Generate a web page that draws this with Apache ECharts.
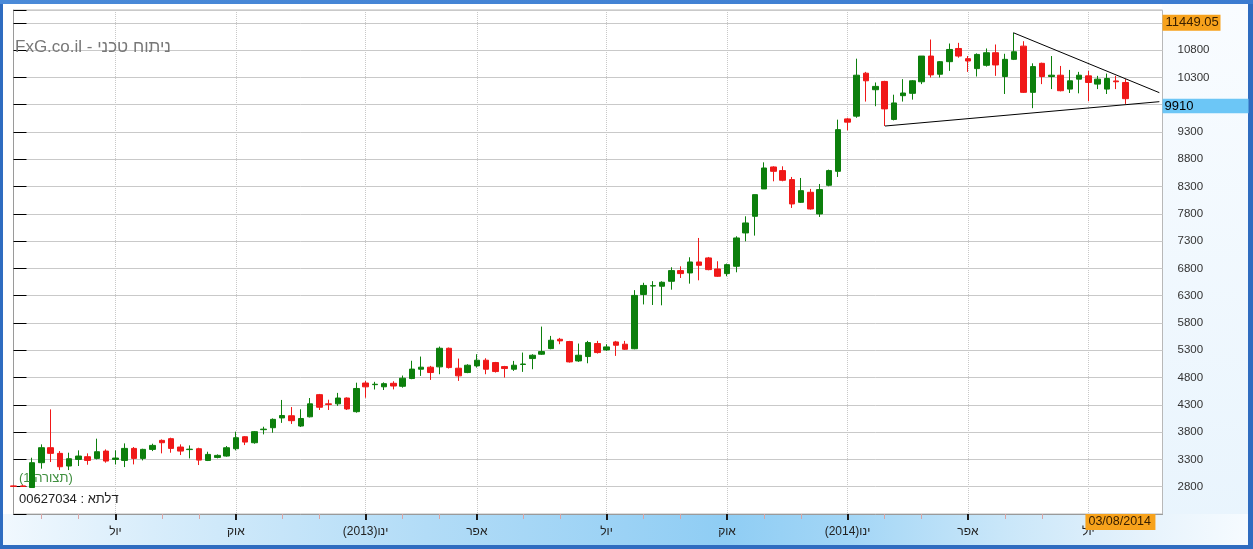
<!DOCTYPE html>
<html><head><meta charset="utf-8">
<script src="https://cdn.jsdelivr.net/npm/echarts@6/dist/echarts.min.js"></script>
<style>html,body{margin:0;padding:0;background:#fff;overflow:hidden}#c{width:1253px;height:549px}</style>
</head><body><div id="c"></div>
<script>
// ---- data (weekly candles, last week 03/08/2014) ----
const lastDate = '03/08/2014';
const opens = [2815,2815,2785,3240,3515,3411,3179,3300,3350,3319,3453,3300,3282,3502,3319,3484,3649,3680,3527,3480,
  3496,3282,3337,3362,3496,3716,3606,3845,3881,4060,4100,3912,4081,4487,4318,4319,4425,4175,4700,4670,
  4631,4695,4640,4782,4953,4990,4996,5337,4971,4892,5014,5118,5075,5001,4953,5040,5148,5228,5331,5502,
  5460,5105,5185,5423,5307,5453,5411,5328,6323,6478,6473,6564,6760,6717,6918,6992,6790,6705,6839,7450,
  7755,8256,8659,8592,8427,8011,8195,7798,8323,8579,9540,9590,10377,10074,10226,9530,9965,10008,10220,10691,
  10358,10588,10830,10643,10461,10522,10752,10316,10631,10873,10026,10558,10316,10340,10086,10268,10328,10177,10086,10235,
  10207];
const closes = [2805,2805,3240,3515,3411,3166,3313,3362,3282,3441,3270,3325,3502,3319,3484,3557,3606,3502,3453,3488,
  3288,3392,3374,3514,3698,3618,3808,3855,4034,4105,4010,4050,4319,4256,4308,4425,4225,4600,4630,4678,
  4688,4645,4788,4955,4990,4892,5337,4983,4831,5026,5118,4953,4910,4965,5026,5048,5209,5276,5484,5472,
  5087,5209,5441,5258,5362,5392,5319,6305,6488,6484,6546,6760,6705,6918,6857,6778,6656,6869,7358,7633,
  8152,8640,8579,8415,7981,8225,7889,8244,8592,9343,9480,10340,10238,10135,9723,9832,10014,10238,10691,10346,
  10588,10812,10691,10600,10721,10752,10528,10631,10770,10026,10498,10316,10340,10056,10238,10340,10207,10268,10280,10220,
  9910];
const lows = [2795,2795,2780,3130,3252,3105,3105,3179,3203,3300,3240,3209,3160,3209,3282,3453,3411,3423,3380,3319,
  3197,3270,3319,3350,3466,3563,3588,3759,3789,3970,3950,3894,4069,4206,4206,4281,4206,4156,4430,4581,
  4572,4583,4615,4770,4830,4757,4861,4965,4739,4880,4983,4861,4892,4800,4922,4904,4953,5215,5319,5411,
  5075,5087,5062,5240,5289,5197,5307,5319,6140,6130,6124,6411,6625,6521,6582,6766,6644,6656,6729,7297,
  7401,8256,8396,8396,7908,7999,7877,7743,8305,8476,9330,9560,9857,9772,9409,9512,9857,9893,10177,10298,
  10298,10419,10661,10401,10316,10498,10328,9996,10618,10014,9736,10177,10086,10044,10014,10008,9863,10086,9996,10086,
  9814];
const highs = [2825,2830,3331,3576,4217,3453,3423,3466,3411,3680,3484,3466,3594,3527,3496,3588,3667,3698,3576,3557,
  3514,3441,3392,3545,3808,3728,3820,3899,4052,4390,4260,4219,4425,4500,4394,4519,4437,4706,4737,4722,
  4712,4732,4837,5108,5185,5014,5368,5350,5148,5044,5228,5154,5087,5014,5105,5258,5228,5734,5563,5527,
  5472,5423,5472,5472,5411,5472,5472,6402,6537,6567,6564,6821,6839,7004,7358,7010,6931,6888,7389,7755,
  8152,8744,8671,8671,8476,8457,8256,8347,8610,9526,9560,10643,10401,10207,10238,9983,10268,10250,10691,10994,
  10600,10921,10933,10691,10740,10830,10903,10733,11114,10963,10558,10570,10691,10510,10437,10401,10419,10328,10370,10328,
  10268];
const futureWeeks = 4;
const tickIndex = [11, 24, 38, 50, 64, 77, 90, 103, 116];
const tickLabels = ['יול', 'אוק', '(2013)ינו', 'אפר', 'יול', 'אוק', '(2014)ינו', 'אפר', 'יול'];
const minorTickIndex = [3, 7, 16, 20, 29, 33, 42, 46, 55, 59, 68, 72, 81, 85, 94, 98, 107, 111];
const trendUpper = [[107.9, 11119], [123.66, 10020]];
const trendLower = [[94.05, 9409], [123.66, 9855]];
const maxLabelValue = 11449.05;
const lastClose = 9910;
const titleText = 'FxG.co.il - ניתוח טכני';
const patternText = '(תצורה 1)';
const deltaText = '00627034 : דלתא';

// ---- build ----
const nCats = opens.length + futureWeeks;
const lp = lastDate.split('/').map(Number);
const categories = Array.from({length: nCats}, (_, i) => {
  const d = new Date(lp[2], lp[1] - 1, lp[0] + (i - (opens.length - 1)) * 7);
  return String(d.getDate()).padStart(2, '0') + '/' + String(d.getMonth() + 1).padStart(2, '0') + '/' + d.getFullYear();
});
const candleData = opens.map((o, i) => [o, closes[i], lows[i], highs[i]]);

const FONT = "'Liberation Sans', 'DejaVu Sans', Arial, sans-serif";
const chart = echarts.init(document.getElementById('c'), null, {renderer: 'canvas'});

function bgElements() {
  return [
    {type: 'rect', id: 'frame', z: -20, shape: {x: 0, y: 0, width: 1253, height: 549}, style: {fill: '#2f6cc0'}, silent: true},
    {type: 'rect', id: 'topbar', z: -19, shape: {x: 0, y: 0, width: 1253, height: 4},
      style: {fill: new echarts.graphic.LinearGradient(0, 0, 1, 0, [{offset: 0, color: '#4a8ad8'}, {offset: 1, color: '#3b7bd0'}])}, silent: true},
    {type: 'rect', id: 'inner', z: -18, shape: {x: 3, y: 4, width: 1245, height: 541}, style: {fill: '#ffffff'}, silent: true},
    {type: 'rect', id: 'rightband', z: -17, shape: {x: 1162, y: 4, width: 86, height: 541},
      style: {fill: new echarts.graphic.LinearGradient(0, 0, 0, 1, [{offset: 0, color: '#f9fcff'}, {offset: 1, color: '#e8f4fd'}])}, silent: true},
    {type: 'rect', id: 'bottomband', z: -16, shape: {x: 3, y: 514, width: 1245, height: 31},
      style: {fill: new echarts.graphic.LinearGradient(0, 0, 1, 0, [
        {offset: 0, color: '#f1f8fe'}, {offset: 0.12, color: '#d8edfb'}, {offset: 0.34, color: '#b2dcf7'},
        {offset: 0.5, color: '#9bd2f5'}, {offset: 0.58, color: '#8fcdf4'}, {offset: 0.68, color: '#a3d6f6'},
        {offset: 0.8, color: '#c8e6f9'}, {offset: 0.92, color: '#e7f3fc'}, {offset: 1, color: '#f6fbff'}])}, silent: true},
    {type: 'text', id: 'title', z: 50, left: 15, top: 39, silent: true,
      style: {text: titleText, font: '17px ' + FONT, fill: '#777777'}},
    {type: 'text', id: 'pattern', z: 50, left: 19, top: 472, silent: true,
      style: {text: patternText, font: '13px ' + FONT, fill: '#3f8f3f'}},
    {type: 'text', id: 'delta', z: 50, left: 19, top: 493, silent: true,
      style: {text: deltaText, font: '13px ' + FONT, fill: '#222222'}}
  ];
}

const option = {
  animation: false,
  backgroundColor: 'transparent',
  grid: {left: 13.5, right: 90.5, top: 10, bottom: 35, show: true, backgroundColor: '#ffffff', borderColor: '#b8b8b8', borderWidth: 1},
  xAxis: [
    {type: 'category', data: categories, boundaryGap: false, position: 'bottom',
      axisLine: {show: true, lineStyle: {color: '#9a9a9a'}},
      axisTick: {show: true, interval: (i) => tickIndex.includes(i), length: 6, lineStyle: {color: '#1a1a1a', width: 2}},
      axisLabel: {show: true, interval: (i) => tickIndex.includes(i), margin: 12, color: '#222', fontSize: 12, fontFamily: FONT,
        formatter: (v, i) => { const k = tickIndex.indexOf(i); return k >= 0 ? tickLabels[k] : ''; }},
      splitLine: {show: true, interval: (i) => tickIndex.includes(i), lineStyle: {color: '#c8c8c8', type: 'dotted', width: 1}}},
    {type: 'category', data: categories, boundaryGap: false, position: 'bottom',
      axisLine: {show: false},
      axisTick: {show: true, interval: (i) => minorTickIndex.includes(i), length: 5, lineStyle: {color: '#d9a4a4', width: 1}},
      axisLabel: {show: false}, splitLine: {show: false}},
    {type: 'value', min: 0, max: nCats - 1, show: false, position: 'bottom'}
  ],
  yAxis: {
    type: 'value', position: 'right', min: 2300, max: 11535, interval: 500, scale: true,
    axisLine: {show: true, lineStyle: {color: '#9a9a9a'}},
    axisTick: {show: true, length: 13, lineStyle: {color: '#000'}},
    axisLabel: {show: true, margin: 15, color: '#333', fontSize: 11.5, fontFamily: FONT,
      formatter: (v) => (v >= 2800 && v <= 10800 && v !== 9800) ? String(v) : ''},
    splitLine: {show: true, lineStyle: {color: '#c9c9c9', width: 1}}
  },
  series: [
    {type: 'candlestick', xAxisIndex: 0, yAxisIndex: 0, data: candleData, barWidth: 6,
      itemStyle: {color: '#0c7f0c', color0: '#f01818', borderColor: '#0c7f0c', borderColor0: '#f01818', borderWidth: 1}},
    {type: 'line', xAxisIndex: 2, yAxisIndex: 0, data: trendUpper, symbol: 'none', silent: true,
      lineStyle: {color: '#000', width: 1}, z: 5},
    {type: 'line', xAxisIndex: 2, yAxisIndex: 0, data: trendLower, symbol: 'none', silent: true,
      lineStyle: {color: '#000', width: 1}, z: 5}
  ],
  graphic: bgElements()
};
chart.setOption(option);

// overlays positioned through the chart's scales
const yMax = chart.convertToPixel({yAxisIndex: 0}, maxLabelValue);
const yCur = chart.convertToPixel({yAxisIndex: 0}, lastClose);
const xLast = chart.convertToPixel({xAxisIndex: 0}, opens.length - 1);
const xRight = chart.convertToPixel({xAxisIndex: 2}, nCats - 1);
const overlays = [
  {type: 'rect', id: 'maxbox', z: 60, shape: {x: xRight, y: yMax, width: 58, height: 16}, style: {fill: '#f7a21c'}, silent: true},
  {type: 'text', id: 'maxtxt', z: 61, x: xRight + 3, y: yMax + 8, silent: true,
    style: {text: maxLabelValue.toFixed(2), font: '13px ' + FONT, fill: '#3a2000', verticalAlign: 'middle', align: 'left'}},
  {type: 'rect', id: 'curbox', z: 60, shape: {x: xRight, y: yCur, width: 86, height: 14.5}, style: {fill: '#6cc6f6'}, silent: true},
  {type: 'text', id: 'curtxt', z: 61, x: xRight + 2, y: yCur + 7.5, silent: true,
    style: {text: String(lastClose), font: '13px ' + FONT, fill: '#000', verticalAlign: 'middle', align: 'left'}},
  {type: 'rect', id: 'datebox', z: 60, shape: {x: xLast - 40, y: 514, width: 70, height: 16}, style: {fill: '#f7a21c'}, silent: true},
  {type: 'text', id: 'datetxt', z: 61, x: xLast - 37, y: 522, silent: true,
    style: {text: lastDate, font: '12.5px ' + FONT, fill: '#3a2000', verticalAlign: 'middle', align: 'left'}}
];
chart.setOption({graphic: bgElements().concat(overlays)});
</script>
</body></html>
